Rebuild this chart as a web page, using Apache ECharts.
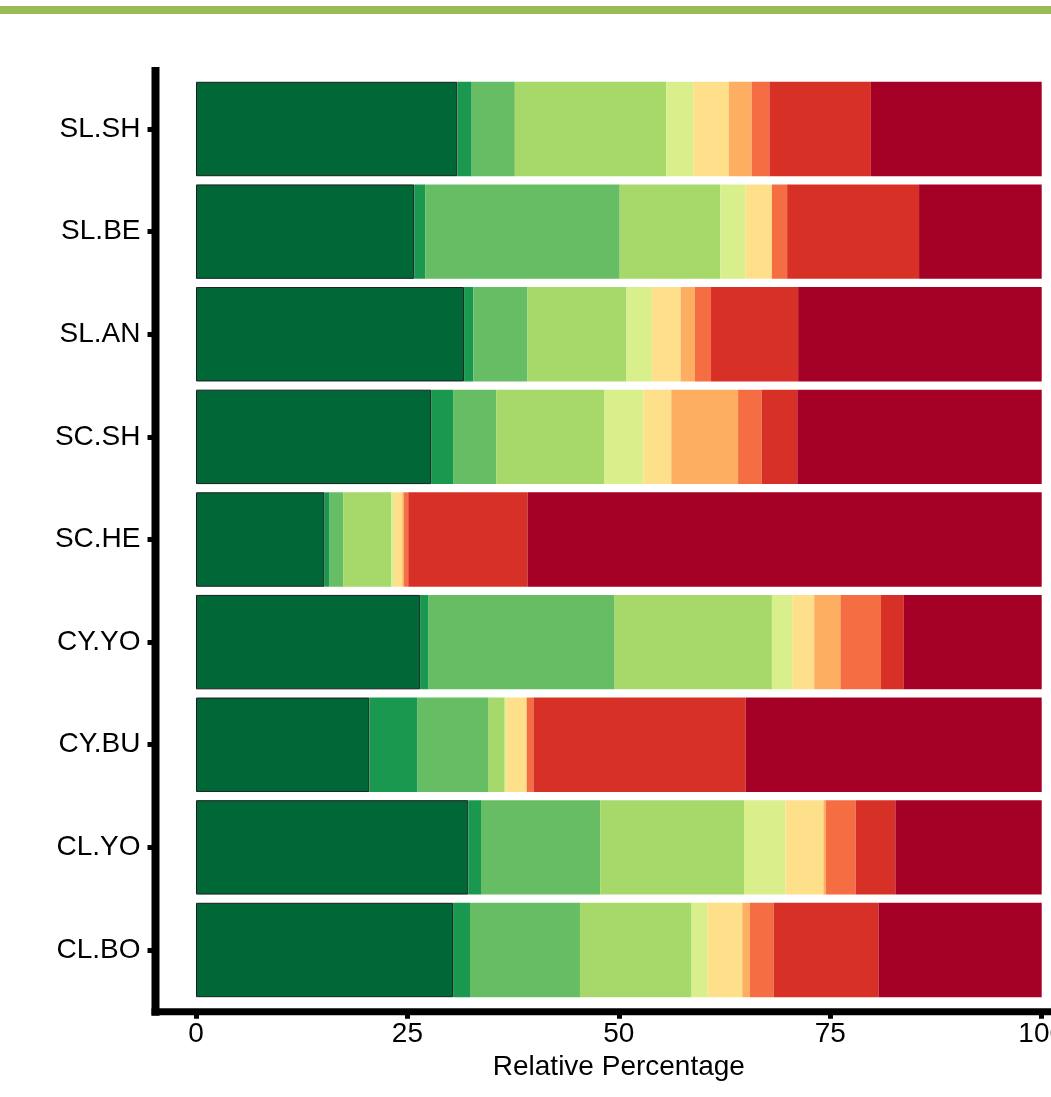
<!DOCTYPE html>
<html>
<head>
<meta charset="utf-8">
<script src="https://cdn.jsdelivr.net/npm/echarts@6/dist/echarts.min.js"></script>
<style>
  html, body { margin: 0; padding: 0; background: #ffffff; }
  #chart { width: 1051px; height: 1097px; }
</style>
</head>
<body>
<div id="chart"></div>
<script>
// Sites / groups, top to bottom
const categories = ['SL.SH', 'SL.BE', 'SL.AN', 'SC.SH', 'SC.HE', 'CY.YO', 'CY.BU', 'CL.YO', 'CL.BO'];

// Relative percentage of each class per group (classes ordered green -> red)
const class1  = [30.9, 25.8, 31.7, 27.8, 15.2, 26.5, 20.5, 32.2, 30.4];
const class2  = [1.7, 1.3, 1.1, 2.6, 0.6, 1.0, 5.7, 1.5, 2.0];
const class3  = [5.1, 23.0, 6.4, 5.1, 1.6, 22.0, 8.4, 14.1, 13.0];
const class4  = [17.9, 11.9, 11.7, 12.8, 5.7, 18.6, 1.9, 17.0, 13.2];
const class5  = [3.2, 3.0, 3.0, 4.6, 0.3, 2.4, 0.2, 4.9, 1.9];
const class6  = [4.2, 3.1, 3.4, 3.3, 1.0, 2.6, 2.4, 4.5, 4.1];
const class7  = [2.7, 0.0, 1.7, 7.9, 0.2, 3.1, 0.0, 0.3, 0.9];
const class8  = [2.1, 1.8, 1.9, 2.8, 0.5, 4.8, 0.8, 3.5, 2.8];
const class9  = [12.0, 15.6, 10.3, 4.2, 14.1, 2.7, 25.1, 4.7, 12.4];
const class10 = [20.2, 14.5, 28.8, 28.9, 60.8, 16.3, 35.0, 17.3, 19.3];

const classNames = ['Class 1', 'Class 2', 'Class 3', 'Class 4', 'Class 5',
                    'Class 6', 'Class 7', 'Class 8', 'Class 9', 'Class 10'];
const classValues = [class1, class2, class3, class4, class5, class6, class7, class8, class9, class10];

// RdYlGn, 10 classes, green to red
const palette = ['#006837', '#1a9850', '#66bd63', '#a6d96a', '#d9ef8b',
                 '#fee08b', '#fdae61', '#f46d43', '#d73027', '#a50026'];

const FONT = "'Liberation Sans', Arial, sans-serif";

// Layout
const W = 1051, H = 1097;
const gridLeft = 196, gridRight = 9.3, gridTop = 77.7, gridBottom = 95.7;
const axisLineX = 155.5;     // left axis line centre
const axisLineY = 1011.7;    // bottom axis line centre
const axisLineW = 8;

const chart = echarts.init(document.getElementById('chart'), null, { renderer: 'canvas' });

const series = classValues.map((vals, i) => ({
  name: classNames[i],
  type: 'bar',
  stack: 'total',
  data: vals,
  barCategoryGap: '8%',
  itemStyle: i === 0
    ? { color: palette[i], borderColor: '#1c1c1c', borderWidth: 1 }
    : { color: palette[i] },
  emphasis: { disabled: true },
  silent: true,
  animation: false
}));

chart.setOption({
  backgroundColor: '#ffffff',
  animation: false,
  grid: {
    left: gridLeft, right: gridRight, top: gridTop, bottom: gridBottom,
    containLabel: false, outerBoundsMode: 'none'
  },
  xAxis: {
    type: 'value',
    min: 0,
    max: 100,
    interval: 25,
    offset: axisLineY - (H - gridBottom),
    name: 'Relative Percentage',
    nameLocation: 'middle',
    nameGap: 42,
    nameTextStyle: { color: '#000000', fontSize: 28, fontFamily: FONT, verticalAlign: 'top' },
    axisLine: { show: false, onZero: false },
    axisTick: { show: true, length: 7, lineStyle: { color: '#000000', width: 5 } },
    axisLabel: { color: '#000000', fontSize: 28, fontFamily: FONT, margin: 9, showMaxLabel: true },
    splitLine: { show: false }
  },
  yAxis: {
    type: 'category',
    data: categories,
    inverse: true,
    offset: gridLeft - axisLineX,
    axisLine: { show: false, onZero: false },
    axisTick: { show: true, alignWithLabel: true, length: 8, lineStyle: { color: '#000000', width: 5 } },
    axisLabel: { color: '#000000', fontSize: 28, fontFamily: FONT, margin: 15 },
    splitLine: { show: false }
  },
  series: series,
  graphic: [
    // banner rule across the top
    { type: 'rect', silent: true, shape: { x: 0, y: 6, width: W, height: 8 }, style: { fill: '#9bbb59' } },
    // left axis line
    { type: 'line', silent: true, z: 100,
      shape: { x1: axisLineX, y1: 67, x2: axisLineX, y2: axisLineY + axisLineW / 2 },
      style: { stroke: '#000000', lineWidth: axisLineW } },
    // bottom axis line
    { type: 'line', silent: true, z: 100,
      shape: { x1: axisLineX - axisLineW / 2, y1: axisLineY, x2: W, y2: axisLineY },
      style: { stroke: '#000000', lineWidth: axisLineW - 1 } }
  ]
});
</script>
</body>
</html>
